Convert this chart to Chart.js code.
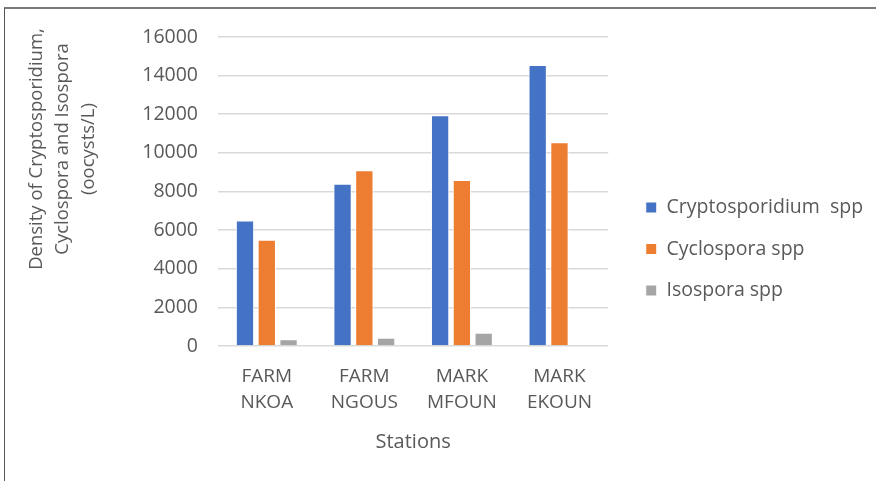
<!DOCTYPE html>
<html>
<head>
<meta charset="utf-8">
<script src="https://cdn.jsdelivr.net/npm/chart.js@4.4.0/dist/chart.umd.min.js"></script>
<style>
    html, body { margin: 0; padding: 0; background: #fff; }
    #wrap { position: relative; width: 876px; height: 481px; overflow: hidden; }
    #frame {
        position: absolute; left: 4px; top: 7px; width: 900px; height: 500px;
        border-top: 2px solid #7a7a7a; border-left: 1px solid #555;
        pointer-events: none;
    }
    canvas { position: absolute; left: 0; top: 0; }
</style>
</head>
<body>
<div id="wrap">
    <canvas id="density-chart" width="876" height="481"></canvas>
    <div id="frame"></div>
</div>
<script>
const stations = [['FARM', 'NKOA'], ['FARM', 'NGOUS'], ['MARK', 'MFOUN'], ['MARK', 'EKOUN']];
const cryptoValues = [6500, 8400, 11950, 14550];
const cycloValues = [5500, 9100, 8600, 10550];
const isoValues = [350, 430, 680, 0];
const yTitleLines = ['Density of Cryptosporidium,', 'Cyclospora and Isospora', '(oocysts/L)'];

const textColor = '#595959';
const fontFamily = '"Open Sans", "Noto Sans", sans-serif';

// y axis title drawn by hand so it can sit off-centre like the original
const yTitlePlugin = {
    id: 'yTitle',
    afterDraw(chart) {
        const ctx = chart.ctx;
        ctx.save();
        ctx.fillStyle = textColor;
        ctx.font = '18.5px ' + fontFamily;
        ctx.textAlign = 'center';
        ctx.textBaseline = 'middle';
        yTitleLines.forEach((line, i) => {
            ctx.save();
            ctx.translate(37 + i * 26, 149);
            ctx.rotate(-Math.PI / 2);
            ctx.fillText(line, 0, 0);
            ctx.restore();
        });
        ctx.restore();
    }
};

// nudge the legend box away from the plot area, and let it use the full right edge
const legendShiftPlugin = {
    id: 'legendShift',
    afterLayout(chart) {
        const lg = chart.legend;
        if (!lg) return;
        lg.left += 15.5;
        lg.right = chart.width;
        lg.top -= 10;
        lg.bottom -= 10;
    }
};

const ctx = document.getElementById('density-chart').getContext('2d');
new Chart(ctx, {
    type: 'bar',
    data: {
        labels: stations,
        datasets: [
            { label: 'Cryptosporidium  spp', data: cryptoValues, backgroundColor: '#4472C4' },
            { label: 'Cyclospora spp', data: cycloValues, backgroundColor: '#ED7D31' },
            { label: 'Isospora spp', data: isoValues, backgroundColor: '#A5A5A5' }
        ]
    },
    options: {
        responsive: false,
        animation: false,
        datasets: {
            bar: {
                categoryPercentage: 0.67,
                barPercentage: 0.84,
                borderColor: '#ffffff',
                borderWidth: 1
            }
        },
        layout: {
            padding: { top: 37, left: 0, right: 65, bottom: 0 }
        },
        scales: {
            x: {
                grid: { display: false },
                border: { display: false },
                ticks: {
                    color: textColor,
                    font: { family: fontFamily, size: 19, lineHeight: 1.4 },
                    padding: 9,
                    maxRotation: 0
                },
                title: {
                    display: true,
                    text: 'Stations',
                    color: textColor,
                    font: { family: fontFamily, size: 20 },
                    padding: { top: 0, bottom: 27 }
                },
                afterFit(scale) { scale.height = 135; }
            },
            y: {
                min: 0,
                max: 16000,
                ticks: {
                    stepSize: 2000,
                    color: textColor,
                    font: { family: fontFamily, size: 19.5 },
                    padding: 20,
                    callback: (value) => String(value)
                },
                grid: { color: '#D9D9D9', lineWidth: 1.6, drawTicks: false },
                border: { display: false },
                afterFit(scale) { scale.width = 218; }
            }
        },
        plugins: {
            legend: {
                position: 'right',
                labels: {
                    boxWidth: 11,
                    boxHeight: 11,
                    padding: 22,
                    color: textColor,
                    font: { family: fontFamily, size: 19.5 }
                }
            },
            tooltip: { enabled: false }
        }
    },
    plugins: [yTitlePlugin, legendShiftPlugin]
});
</script>
</body>
</html>
